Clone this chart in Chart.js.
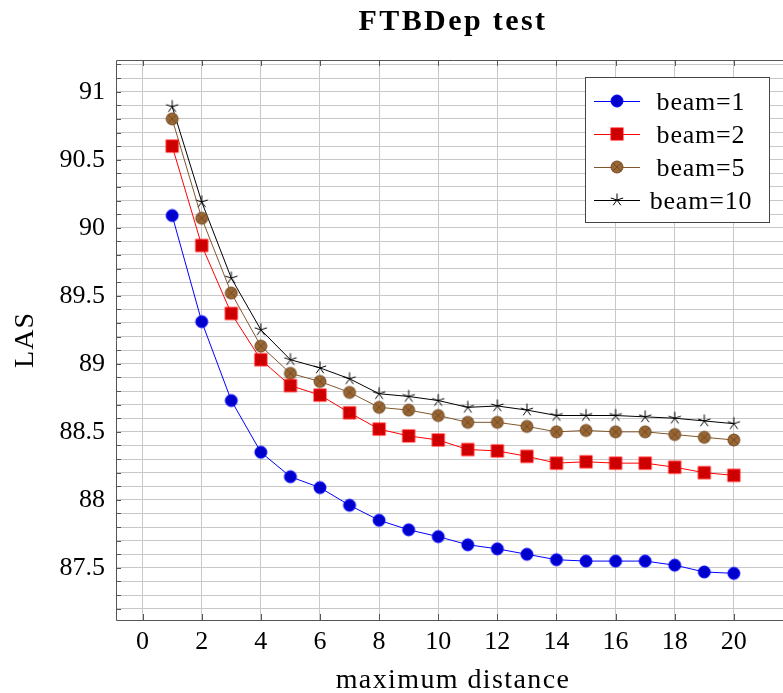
<!DOCTYPE html>
<html>
<head>
<meta charset="utf-8">
<script src="https://cdn.jsdelivr.net/npm/chart.js@4.4.1/dist/chart.umd.min.js"></script>
<style>
  html, body { margin: 0; padding: 0; background: #fff; overflow: hidden; }
  canvas { display: block; }
</style>
</head>
<body>
<canvas id="chart" width="800" height="693"></canvas>
<script>
const distances = [1, 2, 3, 4, 5, 6, 7, 8, 9, 10, 11, 12, 13, 14, 15, 16, 17, 18, 19, 20];
const beam1 = [90.09, 89.31, 88.73, 88.35, 88.17, 88.09, 87.96, 87.85, 87.78, 87.73, 87.67, 87.64, 87.60, 87.56, 87.55, 87.55, 87.55, 87.52, 87.47, 87.46];
const beam2 = [90.60, 89.87, 89.37, 89.03, 88.84, 88.77, 88.64, 88.52, 88.47, 88.44, 88.37, 88.36, 88.32, 88.27, 88.28, 88.27, 88.27, 88.24, 88.20, 88.18];
const beam5 = [90.80, 90.07, 89.52, 89.13, 88.93, 88.87, 88.79, 88.68, 88.66, 88.62, 88.57, 88.57, 88.54, 88.50, 88.51, 88.50, 88.50, 88.48, 88.46, 88.44];
const beam10 = [90.89, 90.19, 89.63, 89.25, 89.03, 88.97, 88.89, 88.78, 88.76, 88.73, 88.68, 88.69, 88.66, 88.62, 88.62, 88.62, 88.61, 88.60, 88.58, 88.56];
const seriesNames = ["beam=1", "beam=2", "beam=5", "beam=10"];
const xTicks = [0, 2, 4, 6, 8, 10, 12, 14, 16, 18, 20];
const yTicks = [87.5, 88, 88.5, 89, 89.5, 90, 90.5, 91];

const chartTitle = "FTBDep test";
const xTitle = "maximum distance";
const yTitle = "LAS";

const FONT = "'Liberation Serif', 'DejaVu Serif', serif";

// markers drawn once on small canvases, used by both the chart and the legend
function makeMarker(kind) {
    const c = document.createElement("canvas");
    c.width = 18; c.height = 18;
    const g = c.getContext("2d");
    const m = 9;
    g.lineWidth = 1;
    if (kind === "circle") {
        g.fillStyle = "rgb(0,0,204)";
        g.strokeStyle = "rgb(0,0,255)";
        g.beginPath(); g.arc(m, m, 6, 0, Math.PI * 2); g.fill(); g.stroke();
    } else if (kind === "square") {
        g.fillStyle = "rgb(204,0,0)";
        g.strokeStyle = "rgb(255,0,0)";
        g.fillRect(m - 6, m - 6, 12, 12);
        g.strokeRect(m - 6, m - 6, 12, 12);
    } else if (kind === "otimes") {
        g.fillStyle = "rgb(153,102,51)";
        g.strokeStyle = "rgb(115,77,38)";
        g.beginPath(); g.arc(m, m, 6, 0, Math.PI * 2); g.fill(); g.stroke();
        const d = 6 * Math.SQRT1_2;
        g.beginPath();
        g.moveTo(m - d, m - d); g.lineTo(m + d, m + d);
        g.moveTo(m + d, m - d); g.lineTo(m - d, m + d);
        g.stroke();
    } else {
        g.strokeStyle = "#000";
        g.beginPath();
        for (let i = 0; i < 5; i++) {
            const a = -Math.PI / 2 + i * 2 * Math.PI / 5;
            g.moveTo(m, m);
            g.lineTo(m + 6.5 * Math.cos(a), m + 6.5 * Math.sin(a));
        }
        g.stroke();
    }
    return c;
}

const markers = [makeMarker("circle"), makeMarker("square"), makeMarker("otimes"), makeMarker("star")];
const lineColors = ["rgb(0,0,255)", "rgb(255,0,0)", "rgb(128,86,44)", "#000"];
const allSeries = [beam1, beam2, beam5, beam10];

const datasets = allSeries.map((vals, i) => ({
    label: seriesNames[i],
    data: distances.map((d, k) => ({ x: d, y: vals[k] })),
    borderColor: lineColors[i],
    borderWidth: 1,
    pointStyle: markers[i],
    tension: 0,
    clip: false
}));

const framePlugin = {
    id: "frame",
    afterDatasetsDraw(chart) {
        const { ctx, chartArea: a, scales } = chart;
        ctx.save();
        ctx.strokeStyle = "#555";
        ctx.lineWidth = 1;
        // inward tick marks
        ctx.beginPath();
        scales.y.ticks.forEach(t => {
            const y = Math.round(scales.y.getPixelForValue(t.value)) + 0.5;
            ctx.moveTo(a.left, y); ctx.lineTo(a.left + 5, y);
        });
        xTicks.forEach(v => {
            const x = Math.round(scales.x.getPixelForValue(v)) + 0.5;
            ctx.moveTo(x, a.bottom); ctx.lineTo(x, a.bottom - 6);
            ctx.moveTo(x, a.top); ctx.lineTo(x, a.top + 6);
        });
        ctx.stroke();
        // axis frame
        ctx.beginPath();
        ctx.moveTo(a.right, a.top + 0.5);
        ctx.lineTo(a.left + 0.5, a.top + 0.5);
        ctx.lineTo(a.left + 0.5, a.bottom + 0.5);
        ctx.lineTo(a.right, a.bottom + 0.5);
        ctx.stroke();

        // titles
        const cx = (a.left + a.right) / 2;
        ctx.fillStyle = "#000";
        ctx.textAlign = "center";
        ctx.textBaseline = "alphabetic";
        ctx.font = "bold 30px " + FONT;
        ctx.letterSpacing = "2.4px";
        ctx.fillText(chartTitle, cx, 30);
        ctx.font = "28px " + FONT;
        ctx.letterSpacing = "1.4px";
        ctx.fillText(xTitle, cx, 688);
        ctx.save();
        ctx.translate(33, (a.top + a.bottom) / 2);
        ctx.rotate(-Math.PI / 2);
        ctx.letterSpacing = "1px";
        ctx.fillText(yTitle, 0, 0);
        ctx.restore();

        // legend box
        const bx = 585.5, by = 77.5, bw = 184, bh = 145;
        ctx.fillStyle = "#fff";
        ctx.fillRect(bx, by, bw, bh);
        ctx.strokeStyle = "#444";
        ctx.strokeRect(bx, by, bw, bh);
        ctx.font = "26px " + FONT;
        ctx.letterSpacing = "0.8px";
        ctx.textBaseline = "alphabetic";
        seriesNames.forEach((name, i) => {
            const y = 101 + i * 33;
            ctx.strokeStyle = lineColors[i];
            ctx.beginPath();
            ctx.moveTo(594, y + 0.5); ctx.lineTo(640, y + 0.5);
            ctx.stroke();
            ctx.drawImage(markers[i], 617 - 9, y - 9);
            ctx.fillStyle = "#000";
            ctx.fillText(name, 701, y + 9);
        });
        ctx.restore();
    }
};

new Chart(document.getElementById("chart"), {
    type: "line",
    data: { datasets: datasets },
    plugins: [framePlugin],
    options: {
        responsive: false,
        animation: false,
        layout: { padding: { left: 0, right: 10, top: 60, bottom: 0 } },
        plugins: {
            legend: { display: false },
            tooltip: { enabled: false }
        },
        scales: {
            x: {
                type: "linear",
                min: -0.9,
                max: 21.9,
                afterBuildTicks: scale => { scale.ticks = xTicks.map(v => ({ value: v })); },
                afterFit: scale => { scale.height = 73; },
                border: { display: false },
                grid: { color: "#c8c8c8", lineWidth: 1, drawTicks: false },
                ticks: {
                    color: "#000",
                    padding: 7,
                    font: { family: FONT, size: 26 },
                    callback: v => String(v)
                }
            },
            y: {
                type: "linear",
                min: 87.117,
                max: 91.233,
                afterBuildTicks: scale => {
                    const t = [];
                    for (let v = 87.2; v <= 91.2001; v += 0.1) t.push({ value: Math.round(v * 10) / 10 });
                    scale.ticks = t;
                },
                afterFit: scale => { scale.width = 116; },
                border: { display: false },
                grid: { color: "#c8c8c8", lineWidth: 1, drawTicks: false },
                ticks: {
                    color: "#000",
                    padding: 11,
                    autoSkip: false,
                    font: { family: FONT, size: 26 },
                    callback: v => yTicks.some(t => Math.abs(t - v) < 1e-6) ? String(v) : ""
                }
            }
        }
    }
});
</script>
</body>
</html>
